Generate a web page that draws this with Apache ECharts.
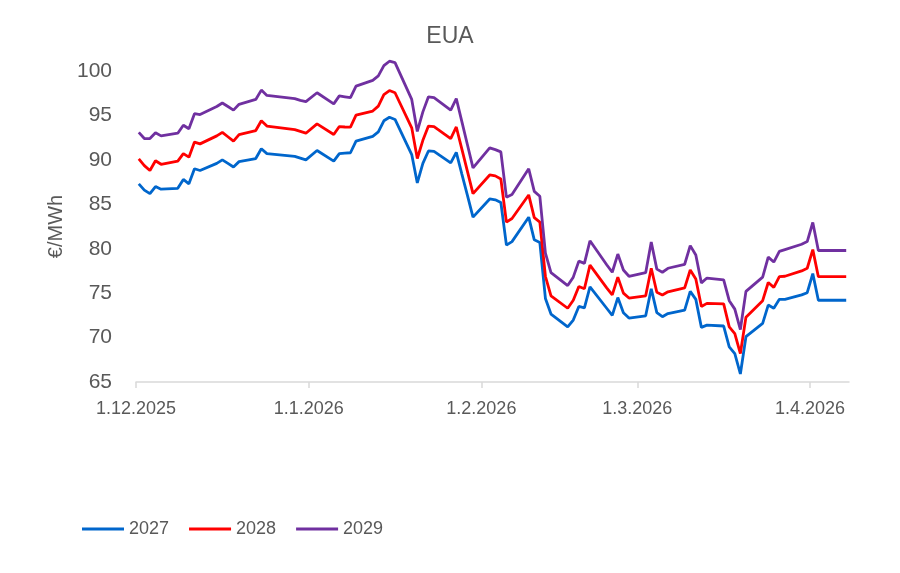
<!DOCTYPE html>
<html>
<head>
<meta charset="utf-8">
<script src="https://cdn.jsdelivr.net/npm/echarts@6/dist/echarts.min.js"></script>
<style>
html,body{margin:0;padding:0;background:#fff;}
#chart{width:900px;height:573px;}
</style>
</head>
<body>
<div id="chart"></div>
<script>
const titleText = 'EUA';
const yAxisName = '€/MWh';
const seriesNames = ['2027', '2028', '2029'];
const tickDates = ['2025-12-01', '2026-01-01', '2026-02-01', '2026-03-01', '2026-04-01'];
const tickLabels = ['1.12.2025', '1.1.2026', '1.2.2026', '1.3.2026', '1.4.2026'];
const axisStart = '2025-12-01';
const axisEnd = '2026-04-08';

const dates = [
 '2025-12-01','2025-12-02','2025-12-03','2025-12-04','2025-12-05',
 '2025-12-08','2025-12-09','2025-12-10','2025-12-11','2025-12-12',
 '2025-12-15','2025-12-16','2025-12-17','2025-12-18','2025-12-19',
 '2025-12-22','2025-12-23','2025-12-24',
 '2025-12-29','2025-12-30','2025-12-31','2026-01-02',
 '2026-01-05','2026-01-06','2026-01-07','2026-01-08','2026-01-09',
 '2026-01-12','2026-01-13','2026-01-14','2026-01-15','2026-01-16',
 '2026-01-19','2026-01-20','2026-01-21','2026-01-22','2026-01-23',
 '2026-01-26','2026-01-27','2026-01-28','2026-01-29','2026-01-30',
 '2026-02-02','2026-02-03','2026-02-04','2026-02-05','2026-02-06',
 '2026-02-09','2026-02-10','2026-02-11','2026-02-12','2026-02-13',
 '2026-02-16','2026-02-17','2026-02-18','2026-02-19','2026-02-20',
 '2026-02-23','2026-02-24','2026-02-25','2026-02-26','2026-02-27',
 '2026-03-02','2026-03-03','2026-03-04','2026-03-05','2026-03-06',
 '2026-03-09','2026-03-10','2026-03-11','2026-03-12','2026-03-13',
 '2026-03-16','2026-03-17','2026-03-18','2026-03-19','2026-03-20',
 '2026-03-23','2026-03-24','2026-03-25','2026-03-26','2026-03-27',
 '2026-03-30','2026-03-31','2026-04-01','2026-04-02','2026-04-03',
 '2026-04-06','2026-04-07'
];

const s2027 = [
 87.3,86.6,86.2,87.0,86.7,
 86.8,87.8,87.3,89.0,88.8,
 89.6,90.0,89.6,89.2,89.8,
 90.15,91.25,90.7,
 90.4,90.2,90.0,91.05,
 89.85,90.7,90.75,90.8,92.1,
 92.65,93.15,94.4,94.8,94.55,
 90.6,87.4,89.6,91.0,90.95,
 89.65,90.85,88.4,86.0,83.55,
 85.6,85.5,85.2,80.4,80.8,
 83.55,81.0,80.7,74.4,72.65,
 71.2,71.97,73.5,73.35,75.7,
 73.3,72.5,74.5,72.8,72.2,
 72.45,75.5,72.8,72.35,72.7,
 73.1,75.2,74.3,71.15,71.4,
 71.3,68.95,68.2,65.9,70.1,
 71.6,73.66,73.3,74.3,74.3,
 74.8,75.05,77.2,74.2,74.2,
 74.2,74.2
];

const s2028 = [
 90.1,89.35,88.8,89.9,89.5,
 89.85,90.7,90.3,92.0,91.8,
 92.7,93.1,92.6,92.1,92.85,
 93.3,94.4,93.8,
 93.4,93.2,93.0,94.05,
 92.85,93.75,93.7,93.68,95.03,
 95.49,96.05,97.35,97.8,97.55,
 93.6,90.15,92.2,93.8,93.75,
 92.4,93.7,91.2,88.7,86.2,
 88.3,88.2,87.85,83.0,83.4,
 86.05,83.5,83.0,76.9,74.7,
 73.3,74.2,75.75,75.5,78.15,
 75.6,74.8,76.8,75.0,74.45,
 74.7,77.8,75.1,74.8,75.15,
 75.6,77.6,76.6,73.5,73.85,
 73.8,71.2,70.45,68.2,72.3,
 74.15,76.2,75.65,76.85,76.9,
 77.5,77.8,79.9,76.85,76.85,
 76.85,76.85
];

const s2029 = [
 93.1,92.4,92.4,93.05,92.7,
 93.0,93.9,93.5,95.2,95.1,
 96.0,96.4,96.0,95.6,96.25,
 96.8,97.85,97.25,
 96.9,96.7,96.55,97.55,
 96.3,97.2,97.1,97.0,98.3,
 98.95,99.45,100.6,101.1,100.95,
 96.8,93.2,95.4,97.1,97.0,
 95.6,96.9,94.3,91.7,89.1,
 91.35,91.15,90.9,85.8,86.1,
 89.0,86.45,85.9,79.5,77.3,
 75.85,76.8,78.6,78.35,80.9,
 78.2,77.35,79.4,77.6,76.9,
 77.3,80.75,77.7,77.35,77.8,
 78.25,80.35,79.3,76.15,76.7,
 76.5,74.15,73.2,70.9,75.2,
 76.8,79.05,78.5,79.7,79.9,
 80.5,80.8,82.95,79.8,79.8,
 79.8,79.8
];

const colors = ['#0066CC', '#FF0000', '#7030A0'];

const DAY = 24 * 3600 * 1000;
function ts(s) {
  const p = s.split('-').map(Number);
  return Date.UTC(p[0], p[1] - 1, p[2]);
}
const t0 = ts(axisStart);
function dayIndex(s) { return Math.round((ts(s) - t0) / DAY); }
// each day occupies one slot; a point sits in the middle of its slot
function pairs(vals) {
  return dates.map((d, i) => [dayIndex(d) + 0.5, vals[i]]);
}
const tickPos = tickDates.map(dayIndex);
const labelMap = {};
tickPos.forEach((t, i) => { labelMap[t] = tickLabels[i]; });

const textColor = '#595959';
const fontFam = '"Liberation Sans", Arial, sans-serif';

const chart = echarts.init(document.getElementById('chart'), null, {renderer: 'canvas'});
chart.setOption({
  animation: false,
  backgroundColor: '#fff',
  title: {
    text: titleText,
    left: 'center',
    top: 20,
    textStyle: {color: textColor, fontSize: 23, fontWeight: 'normal', fontFamily: fontFam}
  },
  legend: {
    data: seriesNames,
    left: 77,
    top: 515,
    icon: 'rect',
    itemWidth: 42,
    itemHeight: 3,
    itemGap: 20,
    textStyle: {color: textColor, fontSize: 18, fontFamily: fontFam}
  },
  grid: {left: 136, right: 51, top: 71, bottom: 191, containLabel: false},
  xAxis: {
    type: 'value',
    min: 0,
    max: dayIndex(axisEnd),
    axisLine: {show: true, lineStyle: {color: '#D9D9D9', width: 1.5}},
    axisTick: {show: true, length: 6, lineStyle: {color: '#D9D9D9', width: 1.5}, customValues: tickPos},
    axisLabel: {
      color: textColor, fontSize: 18, fontFamily: fontFam, margin: 18,
      customValues: tickPos,
      formatter: function (v) { return labelMap[v] !== undefined ? labelMap[v] : ''; }
    },
    splitLine: {show: false}
  },
  yAxis: {
    type: 'value',
    min: 65, max: 100, interval: 5,
    name: yAxisName,
    nameLocation: 'middle',
    nameGap: 70,
    nameTextStyle: {color: textColor, fontSize: 20, fontFamily: fontFam},
    axisLine: {show: false},
    axisTick: {show: false},
    splitLine: {show: false},
    axisLabel: {color: textColor, fontSize: 21, fontFamily: fontFam, margin: 24}
  },
  series: [
    {name: seriesNames[0], type: 'line', clip: false, data: pairs(s2027), showSymbol: false, symbol: 'none', lineStyle: {color: colors[0], width: 2.8}, itemStyle: {color: colors[0]}},
    {name: seriesNames[1], type: 'line', clip: false, data: pairs(s2028), showSymbol: false, symbol: 'none', lineStyle: {color: colors[1], width: 2.8}, itemStyle: {color: colors[1]}},
    {name: seriesNames[2], type: 'line', clip: false, data: pairs(s2029), showSymbol: false, symbol: 'none', lineStyle: {color: colors[2], width: 2.8}, itemStyle: {color: colors[2]}}
  ]
});
</script>
</body>
</html>
